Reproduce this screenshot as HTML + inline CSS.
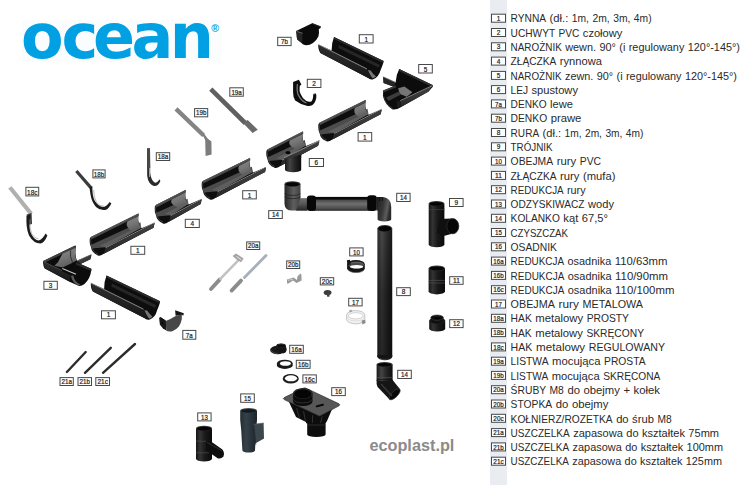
<!DOCTYPE html>
<html lang="pl"><head><meta charset="utf-8"><title>OCEAN - system rynnowy - ecoplast.pl</title>
<style>
html,body{margin:0;padding:0;background:#fff;}
body{width:750px;height:485px;overflow:hidden;}
svg{display:block;}
text{font-family:"Liberation Sans",sans-serif;}
.lg{font-size:11.2px;fill:#2a2a2a;white-space:pre;}
.wU{word-spacing:0.74px;}.wL{word-spacing:0.4px;}.wD{word-spacing:0.7px;}.wE{word-spacing:0.3px;}.wF{word-spacing:0.4px;}
.lb{font-size:8px;fill:#1a1a1a;stroke:#1a1a1a;stroke-width:0.22px;}
.logo{font-family:"DejaVu Sans","Liberation Sans",sans-serif;font-size:62px;font-weight:bold;fill:#00a0e3;}
.reg{font-size:10.5px;font-weight:bold;fill:#00a0e3;}
.eco{font-size:16px;font-weight:bold;fill:#8b8b8b;}
</style></head><body>
<svg width="750" height="485" viewBox="0 0 750 485">
<defs>
<linearGradient id="gFront" x1="0" y1="0" x2="0.25" y2="1"><stop offset="0" stop-color="#484848"/><stop offset="0.6" stop-color="#363636"/><stop offset="1" stop-color="#222"/></linearGradient>
<linearGradient id="gFrontB" x1="0" y1="0" x2="-0.25" y2="1"><stop offset="0" stop-color="#2e2e2e"/><stop offset="0.5" stop-color="#1e1e1e"/><stop offset="1" stop-color="#101010"/></linearGradient>
<linearGradient id="gLit" x1="0" y1="0" x2="0.4" y2="1"><stop offset="0" stop-color="#8a8a8a"/><stop offset="0.6" stop-color="#757575"/><stop offset="1" stop-color="#5e5e5e"/></linearGradient>
<linearGradient id="gV" x1="0" y1="0" x2="1" y2="0"><stop offset="0" stop-color="#1a1a1a"/><stop offset="0.3" stop-color="#444"/><stop offset="0.6" stop-color="#262626"/><stop offset="1" stop-color="#0c0c0c"/></linearGradient>
<linearGradient id="gV2" x1="0" y1="0" x2="1" y2="0"><stop offset="0" stop-color="#141414"/><stop offset="0.25" stop-color="#343434"/><stop offset="0.55" stop-color="#1a1a1a"/><stop offset="1" stop-color="#0a0a0a"/></linearGradient>
<linearGradient id="gH" x1="0" y1="0" x2="0" y2="1"><stop offset="0" stop-color="#080808"/><stop offset="0.16" stop-color="#0c0c0c"/><stop offset="0.24" stop-color="#4c4c4c"/><stop offset="0.5" stop-color="#707070"/><stop offset="0.85" stop-color="#4a4a4a"/><stop offset="1" stop-color="#262626"/></linearGradient>
<linearGradient id="gVL" x1="0" y1="0" x2="1" y2="0"><stop offset="0" stop-color="#242424"/><stop offset="0.4" stop-color="#5e5e5e"/><stop offset="0.75" stop-color="#3c3c3c"/><stop offset="1" stop-color="#1e1e1e"/></linearGradient>
<linearGradient id="gElb" x1="0" y1="0" x2="0" y2="1"><stop offset="0" stop-color="#707070"/><stop offset="0.4" stop-color="#5a5a5a"/><stop offset="1" stop-color="#262626"/></linearGradient>
<linearGradient id="gVR" x1="0" y1="0" x2="1" y2="0.3"><stop offset="0" stop-color="#1a1a1a"/><stop offset="0.55" stop-color="#3a3a3a"/><stop offset="0.8" stop-color="#5c5c5c"/><stop offset="1" stop-color="#2a2a2a"/></linearGradient>
<linearGradient id="gV3" x1="0" y1="0" x2="1" y2="0"><stop offset="0" stop-color="#2a2a2a"/><stop offset="0.3" stop-color="#484848"/><stop offset="0.62" stop-color="#2e2e2e"/><stop offset="1" stop-color="#161616"/></linearGradient>
<linearGradient id="gDark" x1="0" y1="0" x2="0" y2="1"><stop offset="0" stop-color="#000" stop-opacity="0"/><stop offset="0.5" stop-color="#000" stop-opacity="0.35"/><stop offset="1" stop-color="#000" stop-opacity="0.45"/></linearGradient>
<linearGradient id="gSl" x1="0" y1="0" x2="1" y2="0"><stop offset="0" stop-color="#232c32"/><stop offset="0.35" stop-color="#35414a"/><stop offset="1" stop-color="#1c2429"/></linearGradient>
</defs>
<rect width="750" height="485" fill="#fff"/>
<rect x="490" y="0" width="17" height="485" fill="#e9ecf0"/>
<rect x="491.5" y="14.2" width="14.0" height="8.0" fill="#fff" stroke="#484848" stroke-width="1"/>
<text x="498.5" y="20.8" text-anchor="middle" class="lb" textLength="3.6" lengthAdjust="spacingAndGlyphs">1</text>
<text y="22.3" class="lg"><tspan class="wU" x="510.60" textLength="35.51" lengthAdjust="spacingAndGlyphs">RYNNA</tspan><tspan class="wL" x="546.11" textLength="22.18" lengthAdjust="spacingAndGlyphs"> (dł.:</tspan><tspan class="wD" x="568.29" textLength="83.31" lengthAdjust="spacingAndGlyphs"> 1m, 2m, 3m, 4m)</tspan></text>
<rect x="491.5" y="28.5" width="14.0" height="8.0" fill="#fff" stroke="#484848" stroke-width="1"/>
<text x="498.5" y="35.1" text-anchor="middle" class="lb" textLength="3.6" lengthAdjust="spacingAndGlyphs">2</text>
<text y="36.6" class="lg"><tspan class="wU" x="510.60" textLength="68.74" lengthAdjust="spacingAndGlyphs">UCHWYT PVC</tspan><tspan class="wL" x="579.34" textLength="43.06" lengthAdjust="spacingAndGlyphs"> czołowy</tspan></text>
<rect x="491.5" y="42.8" width="14.0" height="8.0" fill="#fff" stroke="#484848" stroke-width="1"/>
<text x="498.5" y="49.4" text-anchor="middle" class="lb" textLength="3.6" lengthAdjust="spacingAndGlyphs">3</text>
<text y="50.9" class="lg"><tspan class="wU" x="510.60" textLength="51.16" lengthAdjust="spacingAndGlyphs">NAROŻNIK</tspan><tspan class="wL" x="561.76" textLength="34.24" lengthAdjust="spacingAndGlyphs"> wewn.</tspan><tspan class="wF" x="596.01" textLength="19.85" lengthAdjust="spacingAndGlyphs"> 90°</tspan><tspan class="wL" x="615.86" textLength="68.49" lengthAdjust="spacingAndGlyphs"> (i regulowany</tspan><tspan class="wF" x="684.35" textLength="55.65" lengthAdjust="spacingAndGlyphs"> 120°-145°)</tspan></text>
<rect x="491.5" y="57.1" width="14.0" height="8.0" fill="#fff" stroke="#484848" stroke-width="1"/>
<text x="498.5" y="63.7" text-anchor="middle" class="lb" textLength="3.6" lengthAdjust="spacingAndGlyphs">4</text>
<text y="65.2" class="lg"><tspan class="wU" x="510.60" textLength="45.72" lengthAdjust="spacingAndGlyphs">ZŁĄCZKA</tspan><tspan class="wL" x="556.32" textLength="45.68" lengthAdjust="spacingAndGlyphs"> rynnowa</tspan></text>
<rect x="491.5" y="71.4" width="14.0" height="8.0" fill="#fff" stroke="#484848" stroke-width="1"/>
<text x="498.5" y="78.0" text-anchor="middle" class="lb" textLength="3.6" lengthAdjust="spacingAndGlyphs">5</text>
<text y="79.5" class="lg"><tspan class="wU" x="510.60" textLength="51.03" lengthAdjust="spacingAndGlyphs">NAROŻNIK</tspan><tspan class="wL" x="561.63" textLength="31.74" lengthAdjust="spacingAndGlyphs"> zewn.</tspan><tspan class="wF" x="593.37" textLength="19.80" lengthAdjust="spacingAndGlyphs"> 90°</tspan><tspan class="wL" x="613.18" textLength="68.31" lengthAdjust="spacingAndGlyphs"> (i regulowany</tspan><tspan class="wF" x="681.49" textLength="55.51" lengthAdjust="spacingAndGlyphs"> 120°-145°)</tspan></text>
<rect x="491.5" y="85.6" width="14.0" height="8.0" fill="#fff" stroke="#484848" stroke-width="1"/>
<text x="498.5" y="92.2" text-anchor="middle" class="lb" textLength="3.6" lengthAdjust="spacingAndGlyphs">6</text>
<text y="93.8" class="lg"><tspan class="wU" x="510.60" textLength="17.47" lengthAdjust="spacingAndGlyphs">LEJ</tspan><tspan class="wL" x="528.07" textLength="49.93" lengthAdjust="spacingAndGlyphs"> spustowy</tspan></text>
<rect x="491.5" y="99.9" width="14.0" height="8.0" fill="#fff" stroke="#484848" stroke-width="1"/>
<text x="498.5" y="106.5" text-anchor="middle" class="lb" textLength="6.9" lengthAdjust="spacingAndGlyphs">7a</text>
<text y="108.1" class="lg"><tspan class="wU" x="510.60" textLength="36.03" lengthAdjust="spacingAndGlyphs">DENKO</tspan><tspan class="wL" x="546.63" textLength="26.37" lengthAdjust="spacingAndGlyphs"> lewe</tspan></text>
<rect x="491.5" y="114.2" width="14.0" height="8.0" fill="#fff" stroke="#484848" stroke-width="1"/>
<text x="498.5" y="120.8" text-anchor="middle" class="lb" textLength="6.9" lengthAdjust="spacingAndGlyphs">7b</text>
<text y="122.4" class="lg"><tspan class="wU" x="510.60" textLength="36.53" lengthAdjust="spacingAndGlyphs">DENKO</tspan><tspan class="wL" x="547.13" textLength="34.27" lengthAdjust="spacingAndGlyphs"> prawe</tspan></text>
<rect x="491.5" y="128.5" width="14.0" height="8.0" fill="#fff" stroke="#484848" stroke-width="1"/>
<text x="498.5" y="135.1" text-anchor="middle" class="lb" textLength="3.6" lengthAdjust="spacingAndGlyphs">8</text>
<text y="136.7" class="lg"><tspan class="wU" x="510.60" textLength="28.55" lengthAdjust="spacingAndGlyphs">RURA</tspan><tspan class="wL" x="539.15" textLength="21.92" lengthAdjust="spacingAndGlyphs"> (dł.:</tspan><tspan class="wD" x="561.07" textLength="82.33" lengthAdjust="spacingAndGlyphs"> 1m, 2m, 3m, 4m)</tspan></text>
<rect x="491.5" y="142.8" width="14.0" height="8.0" fill="#fff" stroke="#484848" stroke-width="1"/>
<text x="498.5" y="149.4" text-anchor="middle" class="lb" textLength="3.6" lengthAdjust="spacingAndGlyphs">9</text>
<text y="151.0" class="lg"><tspan class="wU" x="510.60" textLength="42.00" lengthAdjust="spacingAndGlyphs">TRÓJNIK</tspan></text>
<rect x="491.5" y="157.1" width="14.0" height="8.0" fill="#fff" stroke="#484848" stroke-width="1"/>
<text x="498.5" y="163.7" text-anchor="middle" class="lb" textLength="6.9" lengthAdjust="spacingAndGlyphs">10</text>
<text y="165.2" class="lg"><tspan class="wU" x="510.60" textLength="42.49" lengthAdjust="spacingAndGlyphs">OBEJMA</tspan><tspan class="wL" x="553.09" textLength="23.11" lengthAdjust="spacingAndGlyphs"> rury</tspan><tspan class="wU" x="576.20" textLength="24.80" lengthAdjust="spacingAndGlyphs"> PVC</tspan></text>
<rect x="491.5" y="171.4" width="14.0" height="8.0" fill="#fff" stroke="#484848" stroke-width="1"/>
<text x="498.5" y="178.0" text-anchor="middle" class="lb" textLength="6.9" lengthAdjust="spacingAndGlyphs">11</text>
<text y="179.5" class="lg"><tspan class="wU" x="510.60" textLength="46.00" lengthAdjust="spacingAndGlyphs">ZŁĄCZKA</tspan><tspan class="wL" x="556.60" textLength="58.80" lengthAdjust="spacingAndGlyphs"> rury (mufa)</tspan></text>
<rect x="491.5" y="185.7" width="14.0" height="8.0" fill="#fff" stroke="#484848" stroke-width="1"/>
<text x="498.5" y="192.3" text-anchor="middle" class="lb" textLength="6.9" lengthAdjust="spacingAndGlyphs">12</text>
<text y="193.8" class="lg"><tspan class="wU" x="510.60" textLength="53.01" lengthAdjust="spacingAndGlyphs">REDUKCJA</tspan><tspan class="wL" x="563.61" textLength="21.99" lengthAdjust="spacingAndGlyphs"> rury</tspan></text>
<rect x="491.5" y="200.0" width="14.0" height="8.0" fill="#fff" stroke="#484848" stroke-width="1"/>
<text x="498.5" y="206.6" text-anchor="middle" class="lb" textLength="6.9" lengthAdjust="spacingAndGlyphs">13</text>
<text y="208.1" class="lg"><tspan class="wU" x="510.60" textLength="73.93" lengthAdjust="spacingAndGlyphs">ODZYSKIWACZ</tspan><tspan class="wL" x="584.53" textLength="29.47" lengthAdjust="spacingAndGlyphs"> wody</tspan></text>
<rect x="491.5" y="214.3" width="14.0" height="8.0" fill="#fff" stroke="#484848" stroke-width="1"/>
<text x="498.5" y="220.9" text-anchor="middle" class="lb" textLength="6.9" lengthAdjust="spacingAndGlyphs">14</text>
<text y="222.4" class="lg"><tspan class="wU" x="510.60" textLength="49.23" lengthAdjust="spacingAndGlyphs">KOLANKO</tspan><tspan class="wL" x="559.83" textLength="18.42" lengthAdjust="spacingAndGlyphs"> kąt</tspan><tspan class="wF" x="578.25" textLength="29.75" lengthAdjust="spacingAndGlyphs"> 67,5°</tspan></text>
<rect x="491.5" y="228.5" width="14.0" height="8.0" fill="#fff" stroke="#484848" stroke-width="1"/>
<text x="498.5" y="235.1" text-anchor="middle" class="lb" textLength="6.9" lengthAdjust="spacingAndGlyphs">15</text>
<text y="236.7" class="lg"><tspan class="wU" x="510.60" textLength="57.40" lengthAdjust="spacingAndGlyphs">CZYSZCZAK</tspan></text>
<rect x="491.5" y="242.8" width="14.0" height="8.0" fill="#fff" stroke="#484848" stroke-width="1"/>
<text x="498.5" y="249.4" text-anchor="middle" class="lb" textLength="6.9" lengthAdjust="spacingAndGlyphs">16</text>
<text y="251.0" class="lg"><tspan class="wU" x="510.60" textLength="46.40" lengthAdjust="spacingAndGlyphs">OSADNIK</tspan></text>
<rect x="491.5" y="257.1" width="14.0" height="8.0" fill="#fff" stroke="#484848" stroke-width="1"/>
<text x="498.5" y="263.7" text-anchor="middle" class="lb" textLength="10.4" lengthAdjust="spacingAndGlyphs">16a</text>
<text y="265.3" class="lg"><tspan class="wU" x="510.60" textLength="53.52" lengthAdjust="spacingAndGlyphs">REDUKCJA</tspan><tspan class="wL" x="564.12" textLength="47.09" lengthAdjust="spacingAndGlyphs"> osadnika</tspan><tspan class="wE" x="611.22" textLength="56.18" lengthAdjust="spacingAndGlyphs"> 110/63mm</tspan></text>
<rect x="491.5" y="271.4" width="14.0" height="8.0" fill="#fff" stroke="#484848" stroke-width="1"/>
<text x="498.5" y="278.0" text-anchor="middle" class="lb" textLength="10.4" lengthAdjust="spacingAndGlyphs">16b</text>
<text y="279.6" class="lg"><tspan class="wU" x="510.60" textLength="53.73" lengthAdjust="spacingAndGlyphs">REDUKCJA</tspan><tspan class="wL" x="564.33" textLength="47.27" lengthAdjust="spacingAndGlyphs"> osadnika</tspan><tspan class="wE" x="611.60" textLength="56.40" lengthAdjust="spacingAndGlyphs"> 110/90mm</tspan></text>
<rect x="491.5" y="285.7" width="14.0" height="8.0" fill="#fff" stroke="#484848" stroke-width="1"/>
<text x="498.5" y="292.3" text-anchor="middle" class="lb" textLength="10.4" lengthAdjust="spacingAndGlyphs">16c</text>
<text y="293.9" class="lg"><tspan class="wU" x="510.60" textLength="53.75" lengthAdjust="spacingAndGlyphs">REDUKCJA</tspan><tspan class="wL" x="564.35" textLength="47.29" lengthAdjust="spacingAndGlyphs"> osadnika</tspan><tspan class="wE" x="611.64" textLength="62.76" lengthAdjust="spacingAndGlyphs"> 110/100mm</tspan></text>
<rect x="491.5" y="300.0" width="14.0" height="8.0" fill="#fff" stroke="#484848" stroke-width="1"/>
<text x="498.5" y="306.6" text-anchor="middle" class="lb" textLength="6.9" lengthAdjust="spacingAndGlyphs">17</text>
<text y="308.1" class="lg"><tspan class="wU" x="510.60" textLength="44.25" lengthAdjust="spacingAndGlyphs">OBEJMA</tspan><tspan class="wL" x="554.85" textLength="24.06" lengthAdjust="spacingAndGlyphs"> rury</tspan><tspan class="wU" x="578.91" textLength="64.09" lengthAdjust="spacingAndGlyphs"> METALOWA</tspan></text>
<rect x="491.5" y="314.3" width="14.0" height="8.0" fill="#fff" stroke="#484848" stroke-width="1"/>
<text x="498.5" y="320.9" text-anchor="middle" class="lb" textLength="10.4" lengthAdjust="spacingAndGlyphs">18a</text>
<text y="322.4" class="lg"><tspan class="wU" x="510.60" textLength="21.18" lengthAdjust="spacingAndGlyphs">HAK</tspan><tspan class="wL" x="531.78" textLength="51.34" lengthAdjust="spacingAndGlyphs"> metalowy</tspan><tspan class="wU" x="583.11" textLength="45.89" lengthAdjust="spacingAndGlyphs"> PROSTY</tspan></text>
<rect x="491.5" y="328.6" width="14.0" height="8.0" fill="#fff" stroke="#484848" stroke-width="1"/>
<text x="498.5" y="335.2" text-anchor="middle" class="lb" textLength="10.4" lengthAdjust="spacingAndGlyphs">18b</text>
<text y="336.7" class="lg"><tspan class="wU" x="510.60" textLength="21.11" lengthAdjust="spacingAndGlyphs">HAK</tspan><tspan class="wL" x="531.71" textLength="51.16" lengthAdjust="spacingAndGlyphs"> metalowy</tspan><tspan class="wU" x="582.87" textLength="61.13" lengthAdjust="spacingAndGlyphs"> SKRĘCONY</tspan></text>
<rect x="491.5" y="342.9" width="14.0" height="8.0" fill="#fff" stroke="#484848" stroke-width="1"/>
<text x="498.5" y="349.5" text-anchor="middle" class="lb" textLength="10.4" lengthAdjust="spacingAndGlyphs">18c</text>
<text y="351.0" class="lg"><tspan class="wU" x="510.60" textLength="21.79" lengthAdjust="spacingAndGlyphs">HAK</tspan><tspan class="wL" x="532.39" textLength="52.82" lengthAdjust="spacingAndGlyphs"> metalowy</tspan><tspan class="wU" x="585.21" textLength="79.79" lengthAdjust="spacingAndGlyphs"> REGULOWANY</tspan></text>
<rect x="491.5" y="357.2" width="14.0" height="8.0" fill="#fff" stroke="#484848" stroke-width="1"/>
<text x="498.5" y="363.8" text-anchor="middle" class="lb" textLength="10.4" lengthAdjust="spacingAndGlyphs">19a</text>
<text y="365.3" class="lg"><tspan class="wU" x="510.60" textLength="37.94" lengthAdjust="spacingAndGlyphs">LISTWA</tspan><tspan class="wL" x="548.54" textLength="51.95" lengthAdjust="spacingAndGlyphs"> mocująca</tspan><tspan class="wU" x="600.50" textLength="45.10" lengthAdjust="spacingAndGlyphs"> PROSTA</tspan></text>
<rect x="491.5" y="371.4" width="14.0" height="8.0" fill="#fff" stroke="#484848" stroke-width="1"/>
<text x="498.5" y="378.1" text-anchor="middle" class="lb" textLength="10.4" lengthAdjust="spacingAndGlyphs">19b</text>
<text y="379.6" class="lg"><tspan class="wU" x="510.60" textLength="37.59" lengthAdjust="spacingAndGlyphs">LISTWA</tspan><tspan class="wL" x="548.19" textLength="51.47" lengthAdjust="spacingAndGlyphs"> mocująca</tspan><tspan class="wU" x="599.66" textLength="60.74" lengthAdjust="spacingAndGlyphs"> SKRĘCONA</tspan></text>
<rect x="491.5" y="385.7" width="14.0" height="8.0" fill="#fff" stroke="#484848" stroke-width="1"/>
<text x="498.5" y="392.3" text-anchor="middle" class="lb" textLength="10.4" lengthAdjust="spacingAndGlyphs">20a</text>
<text y="393.9" class="lg"><tspan class="wU" x="510.60" textLength="53.27" lengthAdjust="spacingAndGlyphs">ŚRUBY M8</tspan><tspan class="wL" x="563.87" textLength="96.13" lengthAdjust="spacingAndGlyphs"> do obejmy + kołek</tspan></text>
<rect x="491.5" y="400.0" width="14.0" height="8.0" fill="#fff" stroke="#484848" stroke-width="1"/>
<text x="498.5" y="406.6" text-anchor="middle" class="lb" textLength="10.4" lengthAdjust="spacingAndGlyphs">20b</text>
<text y="408.2" class="lg"><tspan class="wU" x="510.60" textLength="41.62" lengthAdjust="spacingAndGlyphs">STOPKA</tspan><tspan class="wL" x="552.22" textLength="56.18" lengthAdjust="spacingAndGlyphs"> do obejmy</tspan></text>
<rect x="491.5" y="414.3" width="14.0" height="8.0" fill="#fff" stroke="#484848" stroke-width="1"/>
<text x="498.5" y="420.9" text-anchor="middle" class="lb" textLength="10.4" lengthAdjust="spacingAndGlyphs">20c</text>
<text y="422.5" class="lg"><tspan class="wU" x="510.60" textLength="102.04" lengthAdjust="spacingAndGlyphs">KOŁNIERZ/ROZETKA</tspan><tspan class="wL" x="612.64" textLength="41.28" lengthAdjust="spacingAndGlyphs"> do śrub</tspan><tspan class="wU" x="653.92" textLength="17.68" lengthAdjust="spacingAndGlyphs"> M8</tspan></text>
<rect x="491.5" y="428.6" width="14.0" height="8.0" fill="#fff" stroke="#484848" stroke-width="1"/>
<text x="498.5" y="435.2" text-anchor="middle" class="lb" textLength="10.4" lengthAdjust="spacingAndGlyphs">21a</text>
<text y="436.8" class="lg"><tspan class="wU" x="510.60" textLength="59.12" lengthAdjust="spacingAndGlyphs">USZCZELKA</tspan><tspan class="wL" x="569.72" textLength="115.18" lengthAdjust="spacingAndGlyphs"> zapasowa do kształtek</tspan><tspan class="wF" x="684.91" textLength="34.09" lengthAdjust="spacingAndGlyphs"> 75mm</tspan></text>
<rect x="491.5" y="442.9" width="14.0" height="8.0" fill="#fff" stroke="#484848" stroke-width="1"/>
<text x="498.5" y="449.5" text-anchor="middle" class="lb" textLength="10.4" lengthAdjust="spacingAndGlyphs">21b</text>
<text y="451.0" class="lg"><tspan class="wU" x="510.60" textLength="58.54" lengthAdjust="spacingAndGlyphs">USZCZELKA</tspan><tspan class="wL" x="569.14" textLength="114.04" lengthAdjust="spacingAndGlyphs"> zapasowa do kształtek</tspan><tspan class="wF" x="683.17" textLength="39.83" lengthAdjust="spacingAndGlyphs"> 100mm</tspan></text>
<rect x="491.5" y="457.2" width="14.0" height="8.0" fill="#fff" stroke="#484848" stroke-width="1"/>
<text x="498.5" y="463.8" text-anchor="middle" class="lb" textLength="10.4" lengthAdjust="spacingAndGlyphs">21c</text>
<text y="465.3" class="lg"><tspan class="wU" x="510.60" textLength="58.26" lengthAdjust="spacingAndGlyphs">USZCZELKA</tspan><tspan class="wL" x="568.86" textLength="113.50" lengthAdjust="spacingAndGlyphs"> zapasowa do kształtek</tspan><tspan class="wF" x="682.36" textLength="39.64" lengthAdjust="spacingAndGlyphs"> 125mm</tspan></text>
<rect x="22" y="20" width="199.5" height="42" fill="#fbfcfd"/>
<text x="21 61.4 92.9 131.45 169.75" y="57.5" class="logo">ocean</text>
<text x="211.3" y="31.6" class="reg">®</text>
<text x="369.4" y="450.6" class="eco" textLength="85" lengthAdjust="spacingAndGlyphs">ecoplast.pl</text>
<path d="M319.6,122.8 L365.6,100.1 Q364.1,109.1 368.6,114.7 L381.7,109.2 L380.7,114.2 L332.4,139.5 Q328.2,142.5 326.2,141.0 Q320.2,138.4 319.7,133.4 Q318.0,129.3 318.3,126.3 Q318.1,123.3 319.6,122.8 Z" fill="#0e0e0e"/>
<polygon points="319.6,122.8 365.6,100.1 366.0,102.3 319.8,125.2" fill="#4a4a4a"/>
<line x1="319.6" y1="123.1" x2="365.6" y2="100.4" stroke="#606060" stroke-width="0.6"/>
<polygon points="319.4,130.8 367.5,108.8 368.3,114.2 334.4,133.1 320.2,134.4" fill="#4c4c4c"/>
<polygon points="328.2,131.7 368.1,111.8 368.3,114.2 334.4,133.1" fill="#5e5e5e"/>
<path d="M354.9,107.9 L365.8,102.4 Q363.8,109.1 368.0,114.3 L359.3,117.4 Q352.1,112.9 354.9,107.9 Z" fill="url(#gLit)"/>
<line x1="334.2" y1="133.6" x2="381.7" y2="109.2" stroke="#949494" stroke-width="0.9"/>
<polygon points="334.2,134.2 381.7,109.8 380.7,114.2 332.4,139.5" fill="url(#gFront)"/>
<path d="M319.0,124.3 Q318.9,128.3 320.9,133.4 Q321.7,138.4 326.7,139.8" fill="none" stroke="#4a4a4a" stroke-width="0.8"/>
<path d="M203.0,181.0 L250.0,158.0 Q248.5,167.0 253.0,172.6 L266.1,167.1 L265.1,172.1 L215.8,197.7 Q211.6,200.7 209.6,199.2 Q203.6,196.6 203.1,191.6 Q201.4,187.5 201.7,184.5 Q201.5,181.5 203.0,181.0 Z" fill="#0e0e0e"/>
<polygon points="203.0,181.0 250.0,158.0 250.4,160.2 203.2,183.4" fill="#4a4a4a"/>
<line x1="203.0" y1="181.3" x2="250.0" y2="158.3" stroke="#606060" stroke-width="0.6"/>
<polygon points="202.8,189.0 251.9,166.7 252.7,172.1 217.8,191.3 203.6,192.6" fill="#4c4c4c"/>
<polygon points="211.6,189.9 252.4,169.6 252.7,172.1 217.8,191.3" fill="#5e5e5e"/>
<path d="M239.0,165.9 L250.2,160.3 Q248.2,167.0 252.4,172.2 L243.4,175.4 Q236.2,170.9 239.0,165.9 Z" fill="url(#gLit)"/>
<line x1="217.6" y1="191.8" x2="266.1" y2="167.1" stroke="#949494" stroke-width="0.9"/>
<polygon points="217.6,192.4 266.1,167.7 265.1,172.1 215.8,197.7" fill="url(#gFront)"/>
<path d="M202.4,182.5 Q202.3,186.5 204.3,191.6 Q205.1,196.6 210.1,198.0" fill="none" stroke="#4a4a4a" stroke-width="0.8"/>
<path d="M91.0,237.0 L138.5,213.6 Q137.0,222.6 141.5,228.2 L154.6,222.7 L153.6,227.7 L103.8,253.7 Q99.6,256.7 97.6,255.2 Q91.6,252.6 91.1,247.6 Q89.4,243.5 89.7,240.5 Q89.5,237.5 91.0,237.0 Z" fill="#0e0e0e"/>
<polygon points="91.0,237.0 138.5,213.6 138.9,215.8 91.2,239.4" fill="#4a4a4a"/>
<line x1="91.0" y1="237.3" x2="138.5" y2="213.9" stroke="#606060" stroke-width="0.6"/>
<polygon points="90.8,245.0 140.4,222.3 141.2,227.7 105.8,247.3 91.6,248.6" fill="#4c4c4c"/>
<polygon points="99.6,245.9 140.9,225.2 141.2,227.7 105.8,247.3" fill="#5e5e5e"/>
<path d="M127.4,221.6 L138.7,215.9 Q136.7,222.6 140.9,227.8 L131.8,231.1 Q124.6,226.6 127.4,221.6 Z" fill="url(#gLit)"/>
<line x1="105.6" y1="247.8" x2="154.6" y2="222.7" stroke="#949494" stroke-width="0.9"/>
<polygon points="105.6,248.4 154.6,223.3 153.6,227.7 103.8,253.7" fill="url(#gFront)"/>
<path d="M90.4,238.5 Q90.3,242.5 92.3,247.6 Q93.1,252.6 98.1,254.0" fill="none" stroke="#4a4a4a" stroke-width="0.8"/>
<path d="M156.0,205.0 L185.6,190.0 Q184.1,199.0 188.6,204.6 L201.7,199.1 L200.7,204.1 L168.8,221.7 Q164.6,224.7 162.6,223.2 Q156.6,220.6 156.1,215.6 Q154.4,211.5 154.7,208.5 Q154.5,205.5 156.0,205.0 Z" fill="#0e0e0e"/>
<polygon points="156.0,205.0 185.6,190.0 186.0,192.2 156.2,207.4" fill="#4a4a4a"/>
<line x1="156.0" y1="205.3" x2="185.6" y2="190.3" stroke="#606060" stroke-width="0.6"/>
<polygon points="155.8,213.0 187.5,198.7 188.3,204.1 170.8,215.3 156.6,216.6" fill="#4c4c4c"/>
<polygon points="164.6,213.9 188.1,201.6 188.3,204.1 170.8,215.3" fill="#5e5e5e"/>
<path d="M171.7,199.6 L185.8,192.3 Q183.8,199.0 188.0,204.2 L179.4,207.9 Q168.9,204.6 171.7,199.6 Z" fill="url(#gLit)"/>
<line x1="170.6" y1="215.8" x2="201.7" y2="199.1" stroke="#949494" stroke-width="0.9"/>
<polygon points="170.6,216.4 201.7,199.7 200.7,204.1 168.8,221.7" fill="url(#gFront)"/>
<path d="M155.4,206.5 Q155.3,210.5 157.3,215.6 Q158.1,220.6 163.1,222.0" fill="none" stroke="#4a4a4a" stroke-width="0.8"/>
<path d="M318.4,44.5 L331.6,50.6 Q331.5,43.0 334.0,37.0 L383.6,61.0 L383.1,63.6 Q381.7,67.8 380.7,69.8 Q378.7,77.8 372.7,79.5 Q369.7,80.0 367.8,77.8 L320.4,53.0 Q317.9,49.5 318.4,44.5 Z" fill="#0d0d0d"/>
<polygon points="334.0,37.0 383.6,61.0 383.2,63.0 333.8,39.0" fill="#2c2c2c"/>
<polygon points="339.0,44.9 379.6,64.8 378.9,67.8 338.4,47.9" fill="#262626"/>
<path d="M318.4,45.0 L367.0,69.5 Q370.0,76.0 371.7,79.0 L367.8,77.8 L320.4,53.0 Z" fill="url(#gFrontB)"/>
<line x1="318.4" y1="44.5" x2="367.0" y2="69.0" stroke="#9a9a9a" stroke-width="0.9"/>
<path d="M367.8,70.0 Q370.5,76.0 372.7,78.5 L376.1,76.5 Q373.0,74.0 370.6,70.4 Z" fill="#767676"/>
<path d="M90.9,283.0 L104.1,289.1 Q104.0,281.5 106.5,275.5 L160.1,301.2 L159.6,303.8 Q158.2,308.0 157.2,310.0 Q155.2,318.0 149.2,319.7 Q146.2,320.2 144.3,318.0 L92.9,291.5 Q90.4,288.0 90.9,283.0 Z" fill="#0d0d0d"/>
<polygon points="106.5,275.5 160.1,301.2 159.7,303.2 106.3,277.5" fill="#2c2c2c"/>
<polygon points="111.9,283.6 155.9,304.9 155.2,307.9 111.3,286.6" fill="#262626"/>
<path d="M90.9,283.5 L143.5,309.7 Q146.5,316.2 148.2,319.2 L144.3,318.0 L92.9,291.5 Z" fill="url(#gFrontB)"/>
<line x1="90.9" y1="283.0" x2="143.5" y2="309.2" stroke="#9a9a9a" stroke-width="0.9"/>
<path d="M144.3,310.2 Q147.0,316.2 149.2,318.7 L152.6,316.7 Q149.5,314.2 147.1,310.6 Z" fill="#767676"/>
<path d="M399.2,69 L433,85.3 L432.6,87 L428.6,91.6 L401,106.9 Q397,109.8 392.6,109.4 Q385,105 383,96 L383.2,90.5 L393.5,86.6 L383.6,82.9 L383.2,76.8 L395.6,82.4 Q396,75 399.2,69 Z" fill="#0c0c0c" />
<polygon points="399.2,69.0 433.0,85.3 432.2,87.0 399.4,71.2" fill="#2e2e2e" />
<polygon points="383.2,77.2 395.4,82.8 394.0,87.0 383.6,82.9" fill="#262626" />
<line x1="383.2" y1="76.9" x2="395.6" y2="82.5" stroke="#6a6a6a" stroke-width="0.8" />
<polygon points="383.2,90.6 395.4,85.6 396.2,87.2 383.3,92.6" fill="#3a3a3a" />
<polygon points="398.2,88.2 404.4,86.4 412.4,92.2 406.6,96.8 399.6,93.8" fill="#767676" />
<polygon points="386.0,97.5 399.0,91.5 401.0,94.5 388.5,101.0" fill="#3c3c3c" />
<polygon points="400.3,101.2 432.2,86.0 428.6,91.6 401.0,106.9" fill="url(#gFront)" />
<line x1="400.2" y1="100.7" x2="432.4" y2="85.6" stroke="#8a8a8a" stroke-width="0.9" />
<polygon points="396.5,100.5 400.3,101.2 401.0,106.9 397.5,108.6" fill="#1c1c1c" />
<path d="M383.6,96 Q385.5,104.5 392.8,108.6" fill="none" stroke="#444" stroke-width="0.8"/>
<path d="M43.2,261 L75.3,245.4 L75.9,246.2 Q74.6,255 77,260.7 L91.2,254.4 L91.4,255.4 L90.3,259.3 L80.6,264 L91.4,268.8 L91.2,271 Q90,279 84.5,284 Q81,286.4 78.5,285.8 L69.5,281.7 L44.7,268.4 Q42.6,265 43.2,261 Z" fill="#0c0c0c" />
<polygon points="43.4,261.0 75.3,245.4 75.6,247.6 45.0,262.6" fill="#424242" />
<path d="M62.8,253.4 L75.5,247.8 Q74.4,255 76.6,260.6 L70,264 L62.6,267.4 L54.5,265.8 Q59,262 60.8,256.8 Z" fill="url(#gLit)" />
<path d="M70.6,250.4 Q69.5,257 72.6,262.6" fill="none" stroke="#222" stroke-width="0.8"/>
<polygon points="77.2,261.3 91.2,254.9 90.4,259.2 80.8,263.8" fill="#3a3a3a" />
<line x1="77.2" y1="260.9" x2="91.2" y2="254.6" stroke="#7a7a7a" stroke-width="0.8" />
<polygon points="43.6,262.0 70.7,275.4 69.6,281.6 44.8,268.3" fill="url(#gFrontB)" />
<line x1="43.4" y1="261.6" x2="62.0" y2="270.6" stroke="#555" stroke-width="0.8" />
<line x1="62.4" y1="268.4" x2="76.0" y2="274.2" stroke="#c8c8c8" stroke-width="1.1" />
<polygon points="76.0,262.2 91.4,269.0 91.2,271.0 75.8,264.4" fill="#2c2c2c" />
<path d="M71,275.8 Q72,283 78.6,285.4 L80.4,284.6 Q74.5,282 73.4,275.4 Z" fill="#5a5a5a" />
<path d="M296.1,31.1 L312.2,23.2 L320.9,26.5 L320.4,28.3 L318.8,29 Q319.4,33 318.4,36.4 Q316.5,40.5 313,43 Q309,45.6 304.8,45.1 Q302.5,44.6 301.5,43 L297.4,39.7 Q296.3,37 296.5,34.8 Z" fill="#0b0b0b" />
<polygon points="296.5,31.6 302.3,33.4 302.4,43.2 297.5,39.6" fill="#242424" />
<line x1="296.8" y1="31.4" x2="302.6" y2="33.3" stroke="#8a8a8a" stroke-width="0.7" />
<line x1="312.2" y1="23.5" x2="320.6" y2="26.8" stroke="#2e2e2e" stroke-width="0.9" />
<polygon points="175.1,310.3 183.8,313.2 183.4,315.4 181.8,315.0 175.6,315.8" fill="#151515" />
<polygon points="159.1,317.7 160.3,317.2 165.9,320.9 166.3,330.6 163.0,328.6 159.9,324.7" fill="#181818" />
<path d="M165.7,321 Q170,319.6 174.7,316.5 L181.8,314 L181.8,319 Q181,323.5 178.9,326.4 Q176,329.8 172.3,331.3 Q168.5,332 166.3,330.8 Z" fill="#474747" />
<line x1="160.4" y1="317.4" x2="165.8" y2="321.0" stroke="#0a0a0a" stroke-width="1" />
<rect x="161.6" y="321.6" width="1.6" height="2.2" fill="#050505"/>
<path d="M293.1,81.9 L298.9,79.8 L301.4,84.4 L299.7,86 Q299,91 300.6,94 Q302.5,98.6 306,100.8 Q309.5,102.6 311.6,101.2 Q313.2,99.4 313.2,94.3 L315.8,93.4 L316.3,95.1 Q316.6,98.5 315.6,100.6 Q314.4,104 312.5,105 Q310,106.6 306.7,105.8 Q300,104 295.2,100.4 Q293,97.5 293.1,92.6 Z" fill="#0d0d0d" />
<path d="M297.4,84 Q296.4,91.5 298.6,95.6 Q301.6,101 306.4,103" fill="none" stroke="#7c7c7c" stroke-width="1.2"/>
<line x1="313.4" y1="94.2" x2="315.9" y2="93.4" stroke="#888" stroke-width="0.8" />
<path d="M267.6,149.4 L303.0,131.4 Q301.5,140.4 306.0,146.0 L319.1,140.5 L318.1,145.5 L280.4,166.1 Q276.2,169.1 274.2,167.6 Q268.2,165.0 267.7,160.0 Q266.0,155.9 266.3,152.9 Q266.1,149.9 267.6,149.4 Z" fill="#0e0e0e"/>
<polygon points="267.6,149.4 303.0,131.4 303.4,133.6 267.8,151.8" fill="#4a4a4a"/>
<line x1="267.6" y1="149.7" x2="303.0" y2="131.7" stroke="#606060" stroke-width="0.6"/>
<polygon points="267.4,157.4 304.9,140.1 305.7,145.5 282.4,159.7 268.2,161.0" fill="#4c4c4c"/>
<polygon points="276.2,158.3 305.4,143.1 305.7,145.5 282.4,159.7" fill="#5e5e5e"/>
<path d="M289.8,140.6 L303.2,133.7 Q301.2,140.4 305.4,145.6 L296.2,149.4 Q287.0,145.6 289.8,140.6 Z" fill="url(#gLit)"/>
<line x1="282.2" y1="160.2" x2="319.1" y2="140.5" stroke="#949494" stroke-width="0.9"/>
<polygon points="282.2,160.8 319.1,141.1 318.1,145.5 280.4,166.1" fill="url(#gFront)"/>
<path d="M267.0,150.9 Q266.9,154.9 268.9,160.0 Q269.7,165.0 274.7,166.4" fill="none" stroke="#4a4a4a" stroke-width="0.8"/>
<polygon points="283.8,158.6 319.6,141.4 318.0,146.0 301.2,154.8 301.2,158.0 285.0,164.0" fill="url(#gFront)" />
<ellipse cx="288" cy="152.6" rx="2.6" ry="1.6" fill="#050505"/>
<path d="M285,159.6 L301.2,154.6 L301.2,169.8 A8.1,2.4 0 0 1 285,169.8 Z" fill="url(#gV)" />
<line x1="283.9" y1="157.8" x2="319.8" y2="140.6" stroke="#8a8a8a" stroke-width="0.9" />
<polygon points="209.2,90.8 212.4,87.6 247.0,121.6 243.8,125.0" fill="#606060" />
<polygon points="242.8,122.7 247.7,120.0 257.8,129.7 252.6,132.9" fill="#6a6a6a" />
<polygon points="174.5,110.4 177.5,107.2 205.2,134.0 202.2,137.0" fill="#848484" />
<path d="M202.6,135 L204.6,134.6 L207.6,138.6 L211.4,141.5 L211.6,154.6 L205.6,156 L205.2,140 Z" fill="#7c7c7c" />
<path d="M147,148.6 L150,148.2 L150.2,173 Q151,180 154.6,182.6 Q157.4,183 159.4,179.2 L160.4,181 Q158.4,186.4 154,186 Q148.2,184 147.2,176 Z" fill="#2a2a2a" />
<polygon points="147.0,148.6 150.0,148.2 150.2,168.0 147.1,168.0" fill="#484848" />
<line x1="149.4" y1="168.0" x2="149.6" y2="177.0" stroke="#b0b0b0" stroke-width="0.9" />
<polygon points="75.2,171.9 77.6,169.9 92.0,186.4 89.4,188.4" fill="#3c3c3c" />
<path d="M89.4,187 L92.4,186.2 Q92,195 94.6,200.4 Q98.2,206.6 103.4,207 Q106.6,206.6 109.6,202 L111.4,203.6 Q108.6,208.4 106.6,209.6 Q101,211.4 96,207 Q91.6,202 90.4,194 Z" fill="#1c1c1c" />
<path d="M93.6,190 Q93.6,197 96.6,202.6 Q100,206.6 104,206.2" fill="none" stroke="#8a8a8a" stroke-width="0.6"/>
<polygon points="8.2,188.4 11.6,186.2 32.8,212.6 29.4,215.0" fill="#b0b0b0" />
<polygon points="26.6,214.6 31.6,213.0 32.0,224.0 27.6,225.0" fill="#3a3a3a" />
<path d="M26.6,216 L30.6,214.6 Q28.6,226 30.4,232 Q33.4,239.6 38.6,240.6 Q42.4,239.6 45.6,233.6 L47.4,235.4 Q44.6,242.4 40.6,243.6 Q33.6,243.6 29,235.6 Q25.6,227 26.6,216 Z" fill="#1c1c1c" />
<path d="M30,219 Q29.4,228 31.6,233.6 Q34.6,238.6 38.6,239" fill="none" stroke="#909090" stroke-width="0.6"/>
<line x1="66.9" y1="372.0" x2="85.7" y2="352.0" stroke="#2c2c2c" stroke-width="2.4" stroke-linecap="round"/>
<line x1="85.0" y1="372.8" x2="110.8" y2="347.8" stroke="#2c2c2c" stroke-width="2.4" stroke-linecap="round"/>
<line x1="103.0" y1="372.8" x2="135.0" y2="344.0" stroke="#2c2c2c" stroke-width="2.4" stroke-linecap="round"/>
<line x1="211.0" y1="289.0" x2="219.6" y2="279.6" stroke="#8c8c8c" stroke-width="3.8" stroke-linecap="round"/>
<line x1="219.6" y1="279.6" x2="239.0" y2="259.6" stroke="#c2c2c2" stroke-width="2.6" />
<polygon points="232.6,256.0 236.0,253.4 243.6,258.6 241.0,262.2 236.6,259.6" fill="#a4a4a4" />
<line x1="236.4" y1="256.4" x2="241.0" y2="259.6" stroke="#e8e8e8" stroke-width="1" />
<line x1="231.6" y1="290.6" x2="241.0" y2="280.6" stroke="#8c8c8c" stroke-width="3.8" stroke-linecap="round"/>
<line x1="244.4" y1="277.4" x2="266.0" y2="255.6" stroke="#a8aebc" stroke-width="2.8" stroke-linecap="round"/>
<path d="M287,283.4 L287,279.4 L293.6,277.6 L297,280 L297.4,276.4 L300.4,273.4 L301.4,274.4 L301.6,280.4 L296.6,283 L293,280.4 L288.4,283.6 Z" fill="#9a9a9a" />
<line x1="288.0" y1="280.4" x2="293.0" y2="279.0" stroke="#e0e0e0" stroke-width="0.7" />
<ellipse cx="327.6" cy="292.6" rx="3.9" ry="2.7" fill="#3c3c3c"/>
<polygon points="326.6,293.0 329.8,293.0 329.4,296.8 327.2,296.8" fill="#444" />
<path d="M284.5,184 L284.5,204 Q285,210.6 292,210.6 L307.4,210.6 L307.4,198.4 L300.5,198.4 L300.5,184 Z" fill="url(#gVL)" />
<polygon points="300.5,198.4 307.4,198.4 307.4,210.6 296.0,210.6" fill="url(#gElb)" />
<ellipse cx="292.5" cy="184" rx="8" ry="2.7" fill="#3a3a3a"/>
<ellipse cx="292.5" cy="184.3" rx="7.1" ry="2.0" fill="#050505"/>
<path d="M284.6,193.6 A8,2.2 0 0 0 300.4,193.6" fill="none" stroke="#1c1c1c" stroke-width="0.7"/>
<path d="M284.6,196.8 A8,2.2 0 0 0 300.4,196.8" fill="none" stroke="#1c1c1c" stroke-width="0.7"/>
<rect x="314" y="196.9" width="55" height="13.9" fill="url(#gH)"/>
<rect x="306.9" y="195.6" width="9.1" height="15.4" rx="3.2" fill="#070707"/>
<rect x="367.2" y="195.2" width="9.6" height="15.8" rx="3.2" fill="#070707"/>
<path d="M376.2,197 L383,197 Q391.2,198 391.2,207 L391.2,219.4 A6.8,2 0 0 1 377.6,219.4 L377.6,210.6 L376.2,210.6 Z" fill="url(#gVR)" />
<line x1="379.6" y1="197.0" x2="379.6" y2="201.0" stroke="#0a0a0a" stroke-width="0.8" />
<line x1="382.4" y1="197.2" x2="382.4" y2="201.0" stroke="#0a0a0a" stroke-width="0.8" />
<path d="M377.4,228.4 L377.4,356.8 A7.4,3.5 0 0 0 392.2,356.8 L392.2,228.4 Z" fill="url(#gV3)"/>
<ellipse cx="384.8" cy="228.4" rx="7.4" ry="3.5" fill="#3a3a3a"/>
<ellipse cx="384.8" cy="228.7" rx="6.5" ry="2.8" fill="#050505"/>
<rect x="377.4" y="232" width="14.8" height="125" fill="url(#gDark)"/>
<path d="M377.4,356.8 A7.4,2.2 0 0 0 392.2,356.8 L392.2,355 L377.4,355 Z" fill="#141414" />
<path d="M376.6,380 L376.6,384 L377.6,387 L389.6,399.6 Q396.6,398.6 399.9,389 L392.6,380 Z" fill="#151515" />
<ellipse cx="394.7" cy="394.3" rx="7.2" ry="3" transform="rotate(-45 394.7 394.3)" fill="#070707" stroke="#3a3a3a" stroke-width="0.7"/>
<path d="M381,384 L392,396" fill="none" stroke="#3a3a3a" stroke-width="1.2"/>
<path d="M376.6,364.4 L376.6,381.0 L392.6,381.0 L392.6,364.4 Z" fill="url(#gV)"/>
<ellipse cx="384.6" cy="364.4" rx="8.0" ry="2.5" fill="#3a3a3a"/>
<ellipse cx="384.6" cy="364.7" rx="7.1" ry="1.8" fill="#050505"/>
<line x1="376.8" y1="377.6" x2="392.4" y2="377.6" stroke="#4c4c4c" stroke-width="0.7" />
<line x1="376.8" y1="379.6" x2="392.4" y2="379.6" stroke="#111" stroke-width="0.7" />
<path d="M347.1,264.2 A8.85,4.2 0 0 1 364.8,264.2 L364.8,268.4 A8.85,4.2 0 0 1 347.1,268.4 Z" fill="#161616" />
<ellipse cx="356.2" cy="265.2" rx="7.4" ry="3.3" fill="#4a4a4a"/>
<path d="M349,264.6 A7.3,2.6 0 0 1 363.6,264.8" fill="none" stroke="#8a8a8a" stroke-width="0.6"/>
<ellipse cx="356.6" cy="266.8" rx="6.6" ry="1.8" fill="#fff"/>
<path d="M348.6,269.6 A7.6,3 0 0 0 363.8,269.6" fill="none" stroke="#4a4a4a" stroke-width="0.6"/>
<polygon points="346.8,260.2 350.0,259.8 350.8,264.6 347.6,265.0" fill="#161616" />
<path d="M346.6,315 A9.1,4.4 0 0 1 364.8,315 L364.8,319.4 A9.1,4.4 0 0 1 346.6,319.4 Z" fill="#f3f3f3" stroke="#b8b8b8" stroke-width="0.8"/>
<ellipse cx="355.7" cy="315.8" rx="7.4" ry="3.1" fill="#fff" stroke="#c2c2c2" stroke-width="0.7"/>
<path d="M347,317.4 A8.8,4.2 0 0 0 364.4,317.4" fill="none" stroke="#d0d0d0" stroke-width="0.6"/>
<polygon points="361.6,320.6 365.2,319.8 365.6,323.0 362.4,324.4" fill="#8c8c8c" />
<polygon points="349.2,310.2 351.8,309.8 352.2,311.8 349.6,312.4" fill="#a8a8a8" />
<path d="M428.7,203.5 L428.7,244.6 A7.8,2.6 0 0 0 444.4,244.6 L444.4,203.5 Z" fill="url(#gV2)"/>
<ellipse cx="436.5" cy="203.5" rx="7.8" ry="2.6" fill="#3a3a3a"/>
<ellipse cx="436.5" cy="203.8" rx="6.9" ry="1.9" fill="#050505"/>
<path d="M440,219 L452,218.4 L453,233.6 L443.6,236 L436.6,233 Z" fill="#101010" />
<ellipse cx="452.8" cy="226.2" rx="6" ry="7.6" fill="#060606" stroke="#2c2c2c" stroke-width="0.8"/>
<line x1="429.0" y1="209.6" x2="444.8" y2="209.6" stroke="#4a4a4a" stroke-width="0.6" />
<path d="M428.6,268.2 L428.6,291.6 A8.2,2.8 0 0 0 445.0,291.6 L445.0,268.2 Z" fill="url(#gV2)"/>
<ellipse cx="436.8" cy="268.2" rx="8.2" ry="2.8" fill="#3a3a3a"/>
<ellipse cx="436.8" cy="268.5" rx="7.3" ry="2.1" fill="#050505"/>
<line x1="428.8" y1="280.4" x2="444.8" y2="280.4" stroke="#505050" stroke-width="0.7" />
<line x1="428.8" y1="283.0" x2="444.8" y2="283.0" stroke="#505050" stroke-width="0.7" />
<path d="M429.2,320.8 L429.2,328.8 A8.0,2.6 0 0 0 445.2,328.8 L445.2,320.8 Z" fill="url(#gV2)"/>
<ellipse cx="437.2" cy="320.8" rx="8" ry="3.2" fill="#1c1c1c"/>
<path d="M430.8,317.6 L430.8,320.6 A6.3,2.8 0 0 0 443.4,320.6 L443.4,317.6 Z" fill="#0f0f0f" />
<ellipse cx="437.1" cy="317.7" rx="6.3" ry="2.7" fill="#0c0c0c" stroke="#3c3c3c" stroke-width="0.6"/>
<ellipse cx="437.1" cy="318.2" rx="4.4" ry="1.7" fill="#030303" stroke="#2e2e2e" stroke-width="0.5"/>
<ellipse cx="277.6" cy="350" rx="7.5" ry="4.3" fill="#1a1a1a"/>
<path d="M276.4,345.6 A4.7,2.1 0 0 1 285.8,345.6 L286.7,349.4 Q286.4,352.6 283,353.6 L277,350 Z" fill="#141414" />
<ellipse cx="281.1" cy="345.8" rx="4.6" ry="2.1" fill="#2c2c2c"/>
<ellipse cx="281.1" cy="346" rx="3.8" ry="1.5" fill="#0c0c0c"/>
<path d="M271,350.6 Q273,353.4 278,353.8" fill="none" stroke="#555" stroke-width="0.8"/>
<path d="M276.9,363.4 A7.9,3.7 0 0 1 292.7,363.4 L292.7,365.2 A7.9,3.7 0 0 1 276.9,365.2 Z" fill="#1a1a1a" />
<ellipse cx="285.4" cy="363.5" rx="5.5" ry="2.3" fill="#fff"/>
<path d="M282.9,378.3 A7.85,4.2 0 0 1 298.6,378.3 L298.6,379.2 A7.85,4.2 0 0 1 282.9,379.2 Z" fill="#1c1c1c" />
<ellipse cx="291" cy="378.3" rx="6.1" ry="3" fill="#fff"/>
<path d="M306,423.3 L306,422 L296,417 L288.8,401.4 L319.6,414.6 L332.8,407.4 L327,421 L325.6,423.3 L325.6,434.4 A9.2,2.5 0 0 1 307.2,434.4 L307.2,423.3 Z" fill="#0d0d0d" />
<path d="M284.2,397.6 L303.5,388.2 Q304.7,387.6 306,388.2 L339,403.8 Q340.6,404.8 339,405.8 L320.8,415.6 Q319.6,416.3 318.2,415.6 L284.2,399.6 Q282.4,398.6 284.2,397.6 Z" fill="#575757" stroke="#2e2e2e" stroke-width="0.7"/>
<path d="M293.1,393.6 A9.7,5.4 0 0 1 312.5,393.6 L312.5,401.4 A9.7,4.6 0 0 1 293.1,401.4 Z" fill="#0b0b0b" />
<ellipse cx="302.8" cy="393.6" rx="9.7" ry="5.4" fill="#2a2a2a"/>
<ellipse cx="302.8" cy="394" rx="8.5" ry="4.5" fill="#050505"/>
<path d="M293.4,399.4 A9.6,4.4 0 0 0 312.2,399.4" fill="none" stroke="#3c3c3c" stroke-width="0.7"/>
<rect x="315.6" y="404.6" width="8.4" height="2" rx="1" fill="#070707" transform="rotate(-14 319.8 405.6)"/>
<line x1="296.6" y1="408.2" x2="299.4" y2="417.6" stroke="#444" stroke-width="0.7" />
<line x1="303.6" y1="411.2" x2="305.4" y2="421.4" stroke="#444" stroke-width="0.7" />
<line x1="312.6" y1="415.2" x2="312.4" y2="422.8" stroke="#444" stroke-width="0.7" />
<line x1="322.4" y1="416.4" x2="320.4" y2="422.8" stroke="#444" stroke-width="0.7" />
<path d="M307.4,425 L325.4,425" fill="none" stroke="#3a3a3a" stroke-width="0.7"/>
<path d="M240.2,410.6 L240.2,420 L241.2,430 L242.4,450.6 A6.3,2 0 0 0 255,450.6 L256,430 L257,420 L257,410.6 Z" fill="url(#gSl)" />
<ellipse cx="248.6" cy="410.6" rx="8.4" ry="2.5" fill="#46525a"/>
<ellipse cx="248.6" cy="410.9" rx="7.5" ry="1.9" fill="#141a1e"/>
<polygon points="253.5,424.4 263.6,423.0 264.0,438.4 255.2,443.6" fill="#3b464d" />
<line x1="253.6" y1="424.4" x2="263.6" y2="423.0" stroke="#56636b" stroke-width="0.7" />
<line x1="253.8" y1="424.6" x2="255.8" y2="444.6" stroke="#1c2429" stroke-width="0.7" />
<path d="M196.0,428.4 L196.0,458.8 A8.0,2.7 0 0 0 212.0,458.8 L212.0,428.4 Z" fill="url(#gV2)"/>
<ellipse cx="204.0" cy="428.4" rx="8.0" ry="2.7" fill="#333"/>
<ellipse cx="204.0" cy="428.7" rx="7.1" ry="2.0" fill="#050505"/>
<path d="M206,441.8 L211,441.6 L222.4,449.6 Q225,453 223.4,456.4 Q221,459.4 217.6,458.2 L206,450 Z" fill="#0e0e0e" />
<line x1="207.0" y1="442.4" x2="221.6" y2="450.6" stroke="#3c3c3c" stroke-width="0.7" />
<line x1="196.2" y1="441.0" x2="206.0" y2="441.4" stroke="#555" stroke-width="0.6" />
<line x1="196.2" y1="452.8" x2="209.0" y2="452.8" stroke="#555" stroke-width="0.6" />
<rect x="277.7" y="37.3" width="13.4" height="8.3" fill="#fff" stroke="#484848" stroke-width="1"/>
<text x="284.4" y="44.2" text-anchor="middle" class="lb" textLength="6.9" lengthAdjust="spacingAndGlyphs">7b</text>
<rect x="359.3" y="34.7" width="13.8" height="8.3" fill="#fff" stroke="#484848" stroke-width="1"/>
<text x="366.2" y="41.6" text-anchor="middle" class="lb" textLength="3.6" lengthAdjust="spacingAndGlyphs">1</text>
<rect x="307.3" y="79.3" width="13.6" height="8.2" fill="#fff" stroke="#484848" stroke-width="1"/>
<text x="314.1" y="86.1" text-anchor="middle" class="lb" textLength="3.6" lengthAdjust="spacingAndGlyphs">2</text>
<rect x="418.7" y="64.5" width="13.6" height="8.5" fill="#fff" stroke="#484848" stroke-width="1"/>
<text x="425.5" y="71.5" text-anchor="middle" class="lb" textLength="3.6" lengthAdjust="spacingAndGlyphs">5</text>
<rect x="358.1" y="132.6" width="13.6" height="8.5" fill="#fff" stroke="#484848" stroke-width="1"/>
<text x="364.9" y="139.7" text-anchor="middle" class="lb" textLength="3.6" lengthAdjust="spacingAndGlyphs">1</text>
<rect x="309.3" y="158.5" width="14.2" height="8.0" fill="#fff" stroke="#484848" stroke-width="1"/>
<text x="316.4" y="165.1" text-anchor="middle" class="lb" textLength="3.6" lengthAdjust="spacingAndGlyphs">6</text>
<rect x="229.8" y="87.8" width="13.5" height="8.4" fill="#fff" stroke="#484848" stroke-width="1"/>
<text x="236.6" y="94.8" text-anchor="middle" class="lb" textLength="10.4" lengthAdjust="spacingAndGlyphs">19a</text>
<rect x="194.6" y="108.6" width="13.1" height="8.2" fill="#fff" stroke="#484848" stroke-width="1"/>
<text x="201.2" y="115.3" text-anchor="middle" class="lb" textLength="10.4" lengthAdjust="spacingAndGlyphs">19b</text>
<rect x="156.3" y="152.7" width="13.4" height="7.8" fill="#fff" stroke="#484848" stroke-width="1"/>
<text x="163.0" y="159.1" text-anchor="middle" class="lb" textLength="10.4" lengthAdjust="spacingAndGlyphs">18a</text>
<rect x="242.7" y="190.7" width="13.6" height="8.2" fill="#fff" stroke="#484848" stroke-width="1"/>
<text x="249.5" y="197.5" text-anchor="middle" class="lb" textLength="3.6" lengthAdjust="spacingAndGlyphs">1</text>
<rect x="185.3" y="219.3" width="14.0" height="8.2" fill="#fff" stroke="#484848" stroke-width="1"/>
<text x="192.3" y="226.1" text-anchor="middle" class="lb" textLength="3.6" lengthAdjust="spacingAndGlyphs">4</text>
<rect x="92.9" y="169.9" width="12.2" height="8.0" fill="#fff" stroke="#484848" stroke-width="1"/>
<text x="99.0" y="176.5" text-anchor="middle" class="lb" textLength="10.4" lengthAdjust="spacingAndGlyphs">18b</text>
<rect x="25.9" y="187.3" width="12.8" height="8.6" fill="#fff" stroke="#484848" stroke-width="1"/>
<text x="32.3" y="194.5" text-anchor="middle" class="lb" textLength="10.4" lengthAdjust="spacingAndGlyphs">18c</text>
<rect x="130.9" y="246.3" width="13.8" height="8.0" fill="#fff" stroke="#484848" stroke-width="1"/>
<text x="137.8" y="252.9" text-anchor="middle" class="lb" textLength="3.6" lengthAdjust="spacingAndGlyphs">1</text>
<rect x="43.9" y="281.3" width="13.4" height="8.0" fill="#fff" stroke="#484848" stroke-width="1"/>
<text x="50.6" y="287.9" text-anchor="middle" class="lb" textLength="3.6" lengthAdjust="spacingAndGlyphs">3</text>
<rect x="101.5" y="310.8" width="13.9" height="8.0" fill="#fff" stroke="#484848" stroke-width="1"/>
<text x="108.5" y="317.4" text-anchor="middle" class="lb" textLength="3.6" lengthAdjust="spacingAndGlyphs">1</text>
<rect x="182.8" y="330.4" width="13.0" height="8.8" fill="#fff" stroke="#484848" stroke-width="1"/>
<text x="189.3" y="337.9" text-anchor="middle" class="lb" textLength="6.9" lengthAdjust="spacingAndGlyphs">7a</text>
<rect x="60.0" y="377.6" width="13.3" height="7.9" fill="#fff" stroke="#484848" stroke-width="1"/>
<text x="66.7" y="384.2" text-anchor="middle" class="lb" textLength="10.4" lengthAdjust="spacingAndGlyphs">21a</text>
<rect x="78.0" y="377.6" width="13.5" height="7.9" fill="#fff" stroke="#484848" stroke-width="1"/>
<text x="84.8" y="384.2" text-anchor="middle" class="lb" textLength="10.4" lengthAdjust="spacingAndGlyphs">21b</text>
<rect x="95.8" y="377.6" width="13.7" height="7.9" fill="#fff" stroke="#484848" stroke-width="1"/>
<text x="102.7" y="384.2" text-anchor="middle" class="lb" textLength="10.4" lengthAdjust="spacingAndGlyphs">21c</text>
<rect x="246.7" y="241.9" width="13.0" height="7.6" fill="#fff" stroke="#484848" stroke-width="1"/>
<text x="253.2" y="248.1" text-anchor="middle" class="lb" textLength="10.4" lengthAdjust="spacingAndGlyphs">20a</text>
<rect x="286.7" y="260.9" width="13.0" height="7.6" fill="#fff" stroke="#484848" stroke-width="1"/>
<text x="293.2" y="267.2" text-anchor="middle" class="lb" textLength="10.4" lengthAdjust="spacingAndGlyphs">20b</text>
<rect x="320.3" y="277.7" width="13.4" height="7.2" fill="#fff" stroke="#484848" stroke-width="1"/>
<text x="327.0" y="283.6" text-anchor="middle" class="lb" textLength="10.4" lengthAdjust="spacingAndGlyphs">20c</text>
<rect x="268.7" y="210.6" width="13.6" height="7.9" fill="#fff" stroke="#484848" stroke-width="1"/>
<text x="275.5" y="217.1" text-anchor="middle" class="lb" textLength="6.9" lengthAdjust="spacingAndGlyphs">14</text>
<rect x="396.7" y="193.3" width="13.4" height="8.2" fill="#fff" stroke="#484848" stroke-width="1"/>
<text x="403.4" y="200.1" text-anchor="middle" class="lb" textLength="6.9" lengthAdjust="spacingAndGlyphs">14</text>
<rect x="349.7" y="247.9" width="13.4" height="8.0" fill="#fff" stroke="#484848" stroke-width="1"/>
<text x="356.4" y="254.5" text-anchor="middle" class="lb" textLength="6.9" lengthAdjust="spacingAndGlyphs">10</text>
<rect x="348.7" y="298.3" width="13.4" height="7.6" fill="#fff" stroke="#484848" stroke-width="1"/>
<text x="355.4" y="304.6" text-anchor="middle" class="lb" textLength="6.9" lengthAdjust="spacingAndGlyphs">17</text>
<rect x="396.7" y="287.7" width="13.6" height="7.9" fill="#fff" stroke="#484848" stroke-width="1"/>
<text x="403.5" y="294.2" text-anchor="middle" class="lb" textLength="3.6" lengthAdjust="spacingAndGlyphs">8</text>
<rect x="449.5" y="198.5" width="13.6" height="8.0" fill="#fff" stroke="#484848" stroke-width="1"/>
<text x="456.3" y="205.1" text-anchor="middle" class="lb" textLength="3.6" lengthAdjust="spacingAndGlyphs">9</text>
<rect x="449.7" y="276.7" width="13.4" height="7.6" fill="#fff" stroke="#484848" stroke-width="1"/>
<text x="456.4" y="282.9" text-anchor="middle" class="lb" textLength="6.9" lengthAdjust="spacingAndGlyphs">11</text>
<rect x="449.7" y="319.7" width="13.4" height="7.9" fill="#fff" stroke="#484848" stroke-width="1"/>
<text x="456.4" y="326.2" text-anchor="middle" class="lb" textLength="6.9" lengthAdjust="spacingAndGlyphs">12</text>
<rect x="397.7" y="370.3" width="13.6" height="8.2" fill="#fff" stroke="#484848" stroke-width="1"/>
<text x="404.5" y="377.2" text-anchor="middle" class="lb" textLength="6.9" lengthAdjust="spacingAndGlyphs">14</text>
<rect x="289.7" y="345.3" width="13.6" height="8.0" fill="#fff" stroke="#484848" stroke-width="1"/>
<text x="296.5" y="351.9" text-anchor="middle" class="lb" textLength="10.4" lengthAdjust="spacingAndGlyphs">16a</text>
<rect x="296.3" y="360.3" width="13.8" height="8.0" fill="#fff" stroke="#484848" stroke-width="1"/>
<text x="303.2" y="366.9" text-anchor="middle" class="lb" textLength="10.4" lengthAdjust="spacingAndGlyphs">16b</text>
<rect x="302.9" y="374.9" width="13.4" height="8.0" fill="#fff" stroke="#484848" stroke-width="1"/>
<text x="309.6" y="381.6" text-anchor="middle" class="lb" textLength="10.4" lengthAdjust="spacingAndGlyphs">16c</text>
<rect x="331.7" y="387.7" width="13.6" height="7.9" fill="#fff" stroke="#484848" stroke-width="1"/>
<text x="338.5" y="394.2" text-anchor="middle" class="lb" textLength="6.9" lengthAdjust="spacingAndGlyphs">16</text>
<rect x="240.7" y="393.9" width="13.6" height="8.4" fill="#fff" stroke="#484848" stroke-width="1"/>
<text x="247.5" y="400.9" text-anchor="middle" class="lb" textLength="6.9" lengthAdjust="spacingAndGlyphs">15</text>
<rect x="197.7" y="412.9" width="13.4" height="8.0" fill="#fff" stroke="#484848" stroke-width="1"/>
<text x="204.4" y="419.6" text-anchor="middle" class="lb" textLength="6.9" lengthAdjust="spacingAndGlyphs">13</text>
</svg>
</body></html>
